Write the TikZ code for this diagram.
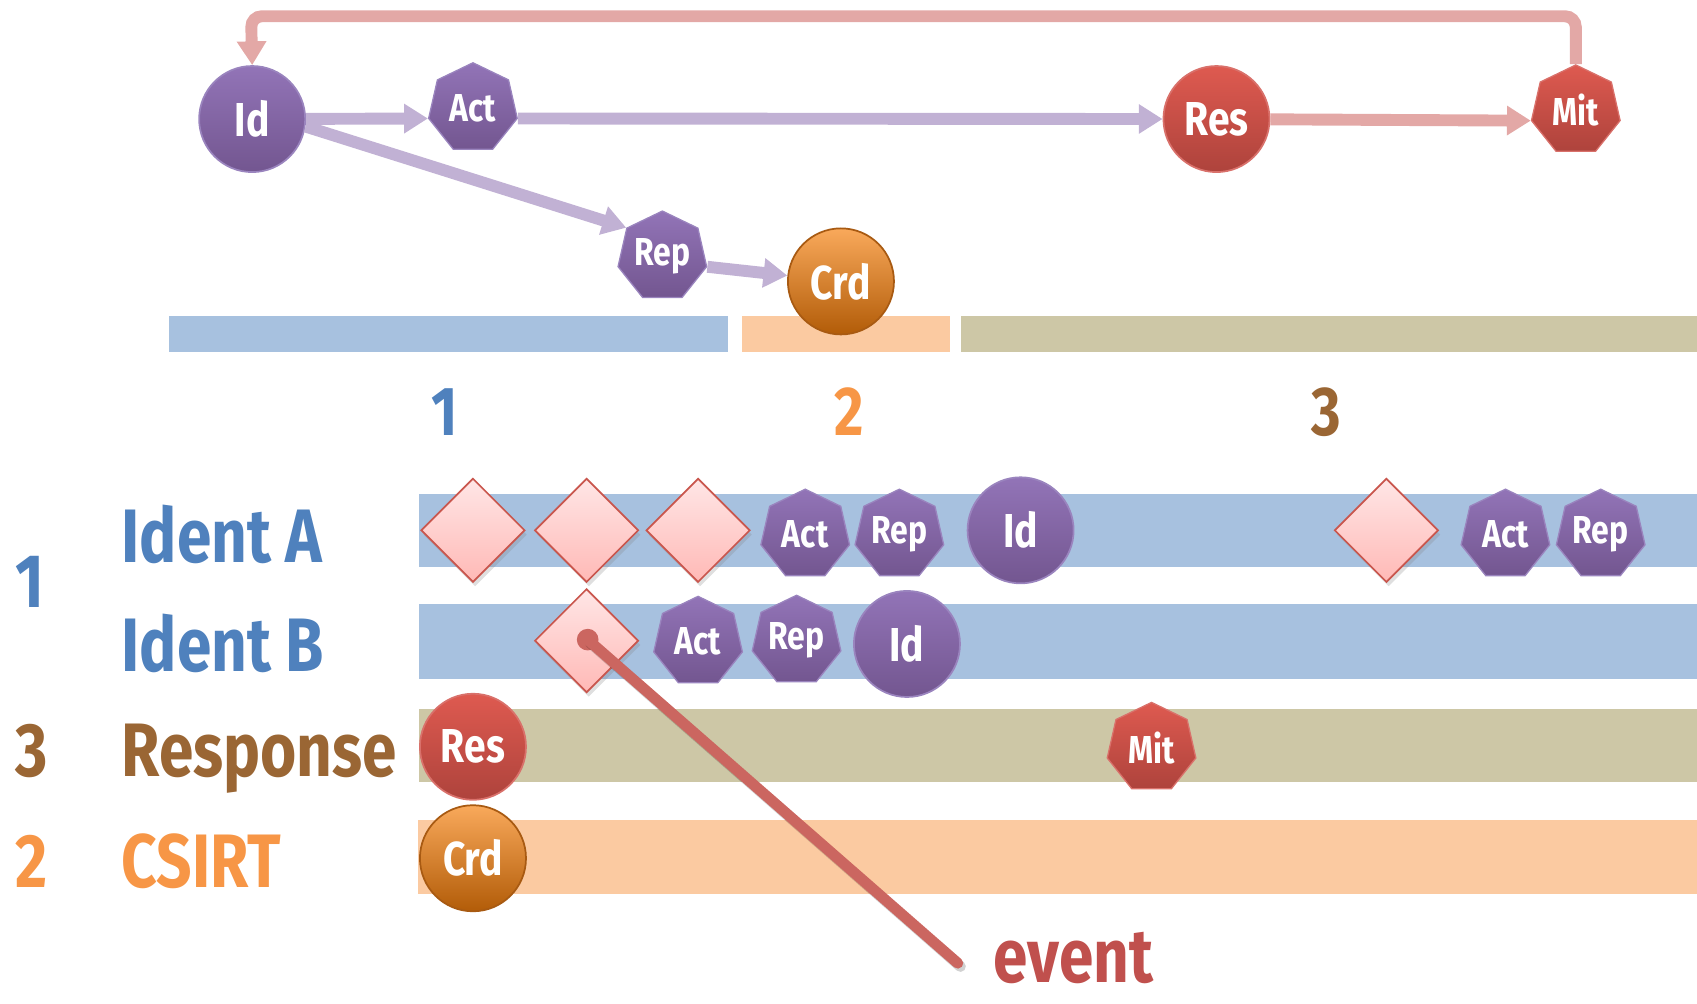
\documentclass[tikz,border=0pt]{standalone}
\usepackage{fontspec}
\newfontfamily\cf{Fira Sans}[FakeStretch=0.82]
\usetikzlibrary{shapes.geometric,arrows.meta,shadows}

\definecolor{laneblue}{HTML}{A7C1DF}
\definecolor{laneolive}{HTML}{CDC7A6}
\definecolor{laneorange}{HTML}{FBCAA1}
\definecolor{txtblue}{HTML}{4F81BD}
\definecolor{txtorange}{HTML}{F79646}
\definecolor{txtbrown}{HTML}{9A6634}
\definecolor{txtred}{HTML}{C0504D}
\definecolor{purtop}{HTML}{9274B7}
\definecolor{purbot}{HTML}{735690}
\definecolor{purline}{HTML}{9A84BE}
\definecolor{redtop}{HTML}{DE5A50}
\definecolor{redbot}{HTML}{AE433C}
\definecolor{redline}{HTML}{D9716B}
\definecolor{orgtop}{HTML}{F9A95B}
\definecolor{orgbot}{HTML}{B25C08}
\definecolor{orgline}{HTML}{A85A12}
\definecolor{dmtop}{HTML}{FFE6E6}
\definecolor{dmbot}{HTML}{FFB9B6}
\definecolor{dmline}{HTML}{C9564D}
\definecolor{arrpur}{HTML}{C1B1D4}
\definecolor{arrred}{HTML}{E3A8A6}
\definecolor{evline}{HTML}{CB6660}

\tikzset{
  lbl/.style={font=\cf\bfseries\fontsize{35}{40}\selectfont, inner sep=0, anchor=base west},
  num/.style={font=\cf\bfseries\fontsize{32}{36}\selectfont, inner sep=0, anchor=base},
  circ/.style={circle, minimum size=49pt, inner sep=0, text=white,
    font=\cf\bfseries\fontsize{22}{24}\selectfont, line width=0.8pt},
  purc/.style={circ, top color=purtop, bottom color=purbot, draw=purline},
  redc/.style={circ, top color=redtop, bottom color=redbot, draw=redline},
  orgc/.style={circ, top color=orgtop, bottom color=orgbot, draw=orgline},
  hept/.style={regular polygon, regular polygon sides=7, minimum size=42pt,
    inner sep=0, text=white, font=\cf\bfseries\fontsize{18}{20}\selectfont,
    line width=0.6pt},
  purh/.style={hept, top color=purtop, bottom color=purbot, draw=purline},
  redh/.style={hept, top color=redtop, bottom color=redbot, draw=redline},
  evt/.style={diamond, minimum width=48pt, minimum height=48pt, inner sep=0,
    top color=dmtop, bottom color=dmbot, draw=dmline, line width=0.8pt,
    drop shadow={opacity=0.25, shadow xshift=1pt, shadow yshift=-2pt}},
  flow/.style={line width=5.5pt, -{Triangle[length=11pt,width=13pt]}},
  parr/.style={flow, draw=arrpur},
  rarr/.style={flow, draw=arrred},
}

\begin{document}
\begin{tikzpicture}[x=0.5pt, y=-0.5pt]
\useasboundingbox (0,0) rectangle (1568,927);

% phase bars
\fill[laneblue] (156,292) rectangle (673,325);
\fill[laneorange] (686,292) rectangle (878,325);
\fill[laneolive] (888,292) rectangle (1568,325);

% phase numbers
\node[num, text=txtblue] (p1) at (411,402) {1};
\node[num, text=txtorange] (p2) at (785,402) {2};
\node[num, text=txtbrown] (p3) at (1225,402) {3};

% swim lanes
\fill[laneblue] (387,456) rectangle (1568,524);
\fill[laneblue] (387,558) rectangle (1568,627);
\fill[laneolive] (387,655) rectangle (1568,723);
\fill[laneorange] (386,758) rectangle (1568,826);

% lane labels
\node[lbl, text=txtblue] (n1) at (14,561) {1};
\node[lbl, text=txtblue] (la) at (112,520) {Ident A};
\node[lbl, text=txtblue] (lb) at (112,620) {Ident B};
\node[lbl, text=txtbrown] (n3) at (14,717) {3};
\node[lbl, text=txtbrown] (lr) at (112,717) {Response};
\node[lbl, text=txtorange] (n2) at (14,820) {2};
\node[lbl, text=txtorange] (lc) at (112,820) {CSIRT};

% process flow
\node[purc] (id0) at (233,110) {Id};
\node[purh] (act0) at (437,100) {Act};
\node[redc] (res0) at (1124,110) {Res};
\node[redh] (mit0) at (1456,102) {Mit};
\node[purh] (rep0) at (612,237) {Rep};
\node[orgc] (crd0) at (777,260) {Crd};

\coordinate (fbR) at (1456,15);
\coordinate (fbL) at (232,15);
\draw[rarr, rounded corners=5pt] (mit0.corner 1) -- (fbR) -- (fbL) -- (id0.north);
\draw[parr] (id0) -- (act0.corner 3);
\draw[parr] (act0.corner 6) -- (res0);
\draw[rarr] (res0) -- (mit0.corner 3);
\draw[parr] (id0.-8) -- (rep0.corner 2);
\draw[parr] (rep0.corner 6) -- (crd0);

% Ident A lane
\node[evt] (a1) at (437,490) {};
\node[evt] (a2) at (542,490) {};
\node[evt] (a3) at (645,490) {};
\node[purh] (a4) at (744,494) {Act};
\node[purh] (a5) at (831,494) {Rep};
\node[purc] (a6) at (943,490) {Id};
\node[evt] (a7) at (1281,490) {};
\node[purh] (a8) at (1391,494) {Act};
\node[purh] (a9) at (1479,494) {Rep};

% Ident B lane
\node[evt] (b1) at (542,592) {};
\node[purh] (b2) at (645,593) {Act};
\node[purh] (b3) at (736,592) {Rep};
\node[purc] (b4) at (838,595) {Id};

% Response and CSIRT lanes
\node[redc] (r1) at (437,690) {Res};
\node[redh] (r2) at (1064,691) {Mit};
\node[orgc] (c1) at (437,793) {Crd};

% event callout
\node[circle, fill=evline, minimum size=10pt, inner sep=0] (evdot) at (543,591) {};
\coordinate (evend) at (885,890);
\draw[black, opacity=0.18, line width=5pt, line cap=round, transform canvas={xshift=1.2pt, yshift=-1.5pt}] (evdot.center) -- (evend);
\draw[evline, line width=5pt, line cap=round] (evdot.center) -- (evend);
\node[lbl, text=txtred] (evlbl) at (918,908) {event};
\end{tikzpicture}
\end{document}
